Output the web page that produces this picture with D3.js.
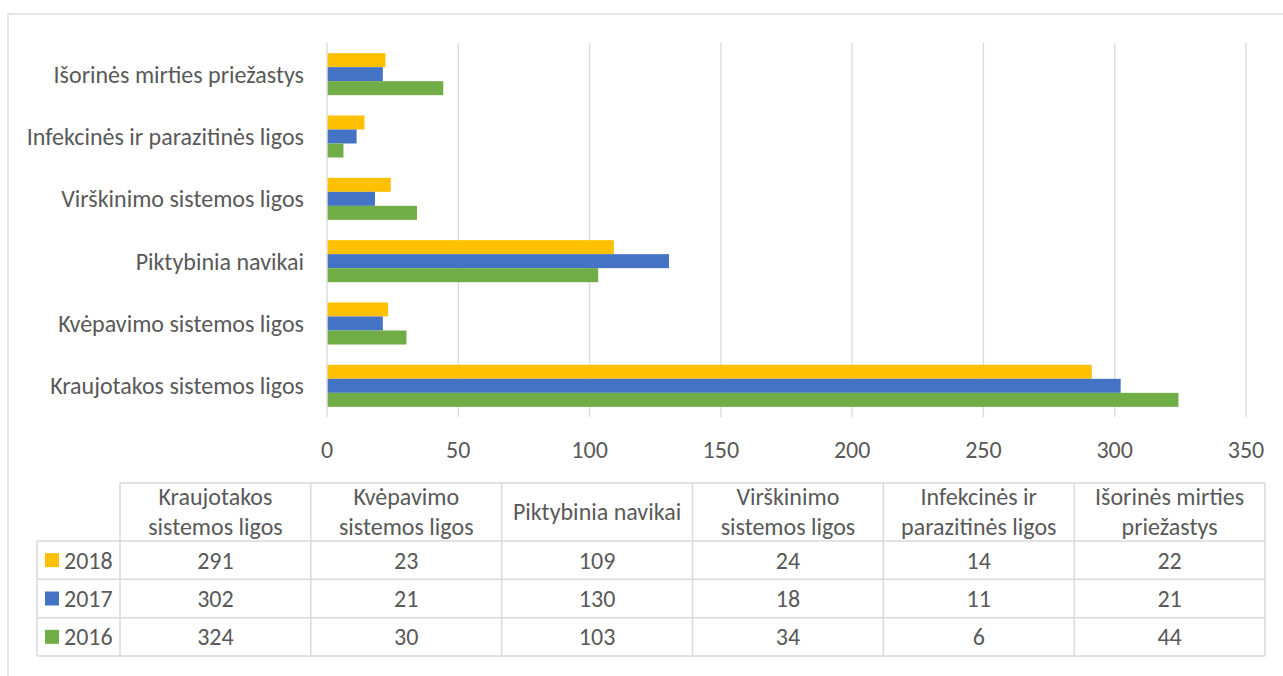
<!DOCTYPE html>
<html><head><meta charset="utf-8">
<script src="https://cdn.jsdelivr.net/npm/d3@7"></script>
<style>body{margin:0;background:#fff}svg{display:block}</style>
</head><body>
<svg id="c" width="1283" height="676"></svg>
<script>
const categories = ["Kraujotakos sistemos ligos","Kvėpavimo sistemos ligos","Piktybinia navikai","Virškinimo sistemos ligos","Infekcinės ir parazitinės ligos","Išorinės mirties priežastys"];
const headerLines = [["Kraujotakos","sistemos ligos"],["Kvėpavimo","sistemos ligos"],["Piktybinia navikai"],["Virškinimo","sistemos ligos"],["Infekcinės ir","parazitinės ligos"],["Išorinės mirties","priežastys"]];
const seriesNames = ["2018","2017","2016"];
const values2018 = [291,23,109,24,14,22];
const values2017 = [302,21,130,18,11,21];
const values2016 = [324,30,103,34,6,44];
const seriesColors = ["#FFC000","#4472C4","#70AD47"];
const xTicks = [0,50,100,150,200,250,300,350];

const seriesValues = [values2018, values2017, values2016];
const font = "Calibri, Carlito, 'Open Sans', sans-serif";
const fs = 24;
const txt = "#595959", grid = "#D9D9D9";
const svg = d3.select("#c");

// outer frame
svg.append("rect").attr("x",8).attr("y",14).attr("width",1300).attr("height",700)
  .attr("fill","none").attr("stroke",grid).attr("stroke-width",1.3);

const x = d3.scaleLinear().domain([0,350]).range([327,1246]);
const yOrder = categories.slice().reverse(); // top to bottom
const y = d3.scaleBand().domain(yOrder).range([43,417]).paddingInner(0.326).paddingOuter(0.163);
const ys = d3.scaleBand().domain(seriesNames).range([0,y.bandwidth()]);

// gridlines
svg.append("g").selectAll("line").data(xTicks).join("line")
  .attr("x1",d=>x(d)).attr("x2",d=>x(d)).attr("y1",43).attr("y2",417)
  .attr("stroke",grid).attr("stroke-width",1.3);

// bars
const g = svg.append("g");
categories.forEach((c,ci)=>{
  seriesNames.forEach((s,si)=>{
    g.append("rect").attr("x",x(0)+0.7).attr("y",y(c)+ys(s))
      .attr("width",x(seriesValues[si][ci])-x(0)).attr("height",ys.bandwidth())
      .attr("fill",seriesColors[si]);
  });
});

// x tick labels
svg.append("g").selectAll("text").data(xTicks).join("text")
  .attr("x",d=>x(d)).attr("y",450).attr("dy","0.35em").attr("text-anchor","middle")
  .attr("font-family",font).attr("font-size",fs).attr("fill",txt).text(d=>d);

// category labels
svg.append("g").selectAll("text").data(categories).join("text")
  .attr("x",304).attr("y",d=>y(d)+y.bandwidth()/2).attr("dy","0.35em").attr("text-anchor","end")
  .attr("font-family",font).attr("font-size",fs).attr("fill",txt).text(d=>d);

// data table
const colX = d3.scaleBand().domain(categories).range([120,1265]);
const rowTop = 483, headBot = 541;
const rowY = d3.scaleBand().domain(seriesNames).range([headBot,656]);
const tg = svg.append("g").attr("stroke",grid).attr("stroke-width",1.5);
tg.append("line").attr("x1",120).attr("x2",1265).attr("y1",rowTop).attr("y2",rowTop);
[headBot, ...seriesNames.map(s=>rowY(s)+rowY.bandwidth())].forEach(yy=>{
  tg.append("line").attr("x1",37).attr("x2",1265).attr("y1",yy).attr("y2",yy);
});
tg.append("line").attr("x1",37).attr("x2",37).attr("y1",headBot).attr("y2",656);
categories.forEach(c=>{
  tg.append("line").attr("x1",colX(c)).attr("x2",colX(c)).attr("y1",rowTop).attr("y2",656);
});
tg.append("line").attr("x1",1265).attr("x2",1265).attr("y1",rowTop).attr("y2",656);

// header text
categories.forEach((c,ci)=>{
  const lines = headerLines[ci];
  const cx = colX(c)+colX.bandwidth()/2;
  const cy = (rowTop+headBot)/2;
  lines.forEach((l,li)=>{
    svg.append("text").attr("x",cx).attr("y",cy + (li-(lines.length-1)/2)*30).attr("dy","0.35em")
      .attr("text-anchor","middle").attr("font-family",font).attr("font-size",fs)
      .attr("fill",txt).text(l);
  });
});
// rows
seriesNames.forEach((s,si)=>{
  const cy = rowY(s)+rowY.bandwidth()/2;
  svg.append("rect").attr("x",45).attr("y",cy-7).attr("width",14).attr("height",14).attr("fill",seriesColors[si]);
  svg.append("text").attr("x",64).attr("y",cy).attr("dy","0.35em").attr("font-family",font).attr("font-size",fs)
    .attr("fill",txt).text(s);
  categories.forEach((c,ci)=>{
    svg.append("text").attr("x",colX(c)+colX.bandwidth()/2).attr("y",cy).attr("dy","0.35em")
      .attr("text-anchor","middle").attr("font-family",font).attr("font-size",fs)
      .attr("fill",txt).text(seriesValues[si][ci]);
  });
});
</script>
</body></html>
